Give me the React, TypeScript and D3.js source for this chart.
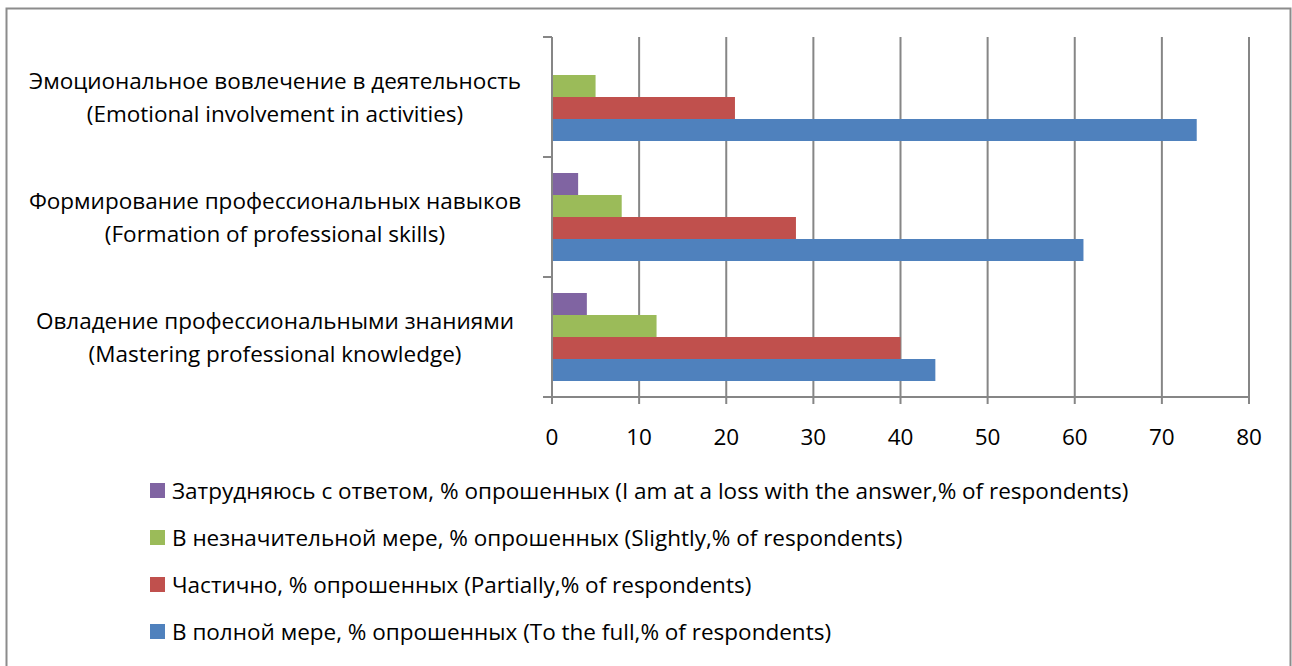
import React, { useEffect, useRef } from 'react';
import * as d3 from 'd3';

// categories top to bottom
const categories = [
  ['Эмоциональное вовлечение в деятельность', '(Emotional involvement in activities)'],
  ['Формирование профессиональных навыков', '(Formation of professional skills)'],
  ['Овладение профессиональными знаниями', '(Mastering professional knowledge)'],
];

const seriesNames = [
  'Затрудняюсь с ответом, % опрошенных (I am at a loss with the answer,% of respondents)',
  'В незначительной мере, % опрошенных (Slightly,% of respondents)',
  'Частично, % опрошенных (Partially,% of respondents)',
  'В полной мере, % опрошенных (To the full,% of respondents)',
];

const lossValues = [0, 3, 4];
const slightlyValues = [5, 8, 12];
const partiallyValues = [21, 28, 40];
const fullValues = [74, 61, 44];

const seriesColors = ['#8064A2', '#9BBB59', '#C0504D', '#4F81BD'];
const xTicks = [0, 10, 20, 30, 40, 50, 60, 70, 80];

export default function App() {
  const svgRef = useRef<SVGSVGElement>(null);

  useEffect(() => {
    if (!svgRef.current) return;
    const svg = d3.select(svgRef.current);
    svg.selectAll('*').remove();

    const W = 1292, H = 666;
    const font = '"Open Sans", "Noto Sans", sans-serif';
    const fs = 22.5;
    const left = 552, right = 1249, top = 37, bottom = 397;

    // frame
    svg.append('rect')
      .attr('x', 6.5).attr('y', 8.5)
      .attr('width', W - 8).attr('height', H + 20)
      .attr('fill', '#fff').attr('stroke', '#8c8c8c').attr('stroke-width', 2);

    const x = d3.scaleLinear().domain([0, 80]).range([left, right]);
    const y = d3.scaleBand<number>()
      .domain(d3.range(categories.length))
      .range([top, bottom]);

    const inner = d3.scaleBand<number>()
      .domain(d3.range(4))
      .range([0, y.bandwidth()])
      .paddingOuter(0.727)
      .paddingInner(0);

    const series = [lossValues, slightlyValues, partiallyValues, fullValues];

    // gridlines
    svg.append('g')
      .selectAll('line')
      .data(xTicks.slice(1))
      .join('line')
      .attr('x1', d => x(d)).attr('x2', d => x(d))
      .attr('y1', top).attr('y2', bottom + 7)
      .attr('stroke', '#868686').attr('stroke-width', 2);

    // bars
    series.forEach((vals, si) => {
      svg.append('g')
        .selectAll('rect')
        .data(vals)
        .join('rect')
        .attr('x', x(0))
        .attr('y', (_, i) => y(i)! + inner(si)!)
        .attr('width', d => x(d) - x(0))
        .attr('height', inner.bandwidth())
        .attr('fill', seriesColors[si]);
    });

    // axes
    svg.append('line')
      .attr('x1', left).attr('x2', left).attr('y1', top).attr('y2', bottom + 7)
      .attr('stroke', '#868686').attr('stroke-width', 2);
    svg.append('line')
      .attr('x1', left - 9).attr('x2', right + 1).attr('y1', bottom).attr('y2', bottom)
      .attr('stroke', '#868686').attr('stroke-width', 2);
    svg.append('g')
      .selectAll('line')
      .data(d3.range(categories.length + 1))
      .join('line')
      .attr('x1', left - 9).attr('x2', left)
      .attr('y1', d => top + d * y.step()).attr('y2', d => top + d * y.step())
      .attr('stroke', '#868686').attr('stroke-width', 2);

    // x tick labels
    svg.append('g')
      .selectAll('text')
      .data(xTicks)
      .join('text')
      .attr('x', d => x(d)).attr('y', 445)
      .attr('text-anchor', 'middle')
      .attr('font-family', font).attr('font-size', fs).attr('fill', '#000')
      .text(d => d);

    // category labels
    const cat = svg.append('g')
      .selectAll('text')
      .data(categories)
      .join('text')
      .attr('text-anchor', 'middle')
      .attr('font-family', font).attr('font-size', fs).attr('fill', '#000');
    cat.append('tspan')
      .attr('x', 275).attr('y', (_, i) => y(i)! + y.bandwidth() / 2 - 8)
      .text(d => d[0]);
    cat.append('tspan')
      .attr('x', 275).attr('y', (_, i) => y(i)! + y.bandwidth() / 2 + 25)
      .text(d => d[1]);

    // legend
    const lg = svg.append('g')
      .selectAll('g')
      .data(seriesNames)
      .join('g')
      .attr('transform', (_, i) => `translate(150, ${491 + i * 47})`);
    lg.append('rect')
      .attr('x', 0).attr('y', -8).attr('width', 15).attr('height', 15)
      .attr('fill', (_, i) => seriesColors[i]);
    lg.append('text')
      .attr('x', 22).attr('y', 8)
      .attr('font-family', font).attr('font-size', fs).attr('fill', '#000')
      .text(d => d);
  }, []);

  return (
    <div style={{ position: 'absolute', left: 0, top: 0, width: 1292, height: 666, overflow: 'hidden', background: '#fff' }}>
      <svg ref={svgRef} width={1292} height={666} />
    </div>
  );
}
